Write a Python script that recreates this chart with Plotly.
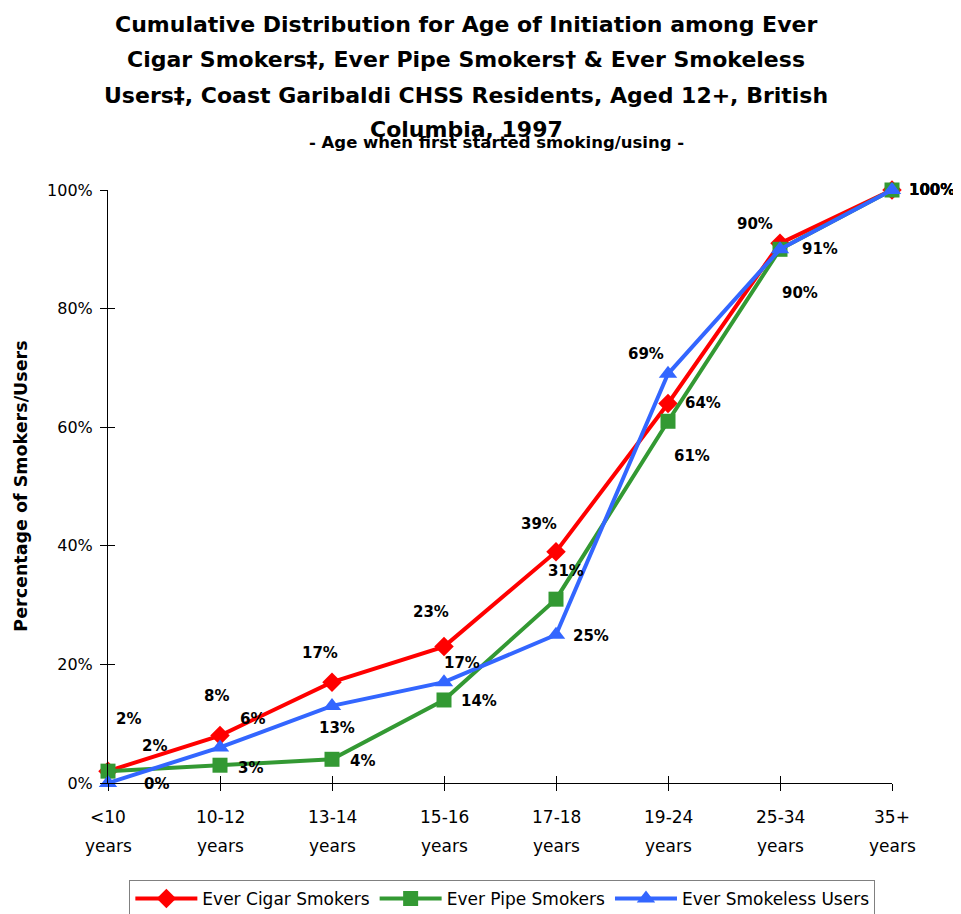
import plotly.graph_objects as go

# data
categories = ["<10", "10-12", "13-14", "15-16", "17-18", "19-24", "25-34", "35+"]
cat_unit = "years"
cigar = [2, 8, 17, 23, 39, 64, 91, 100]
pipe = [2, 3, 4, 14, 31, 61, 90, 100]
smokeless = [0, 6, 13, 17, 25, 69, 90, 100]
y_ticks = [0, 0.2, 0.4, 0.6, 0.8, 1.0]

title_lines = [
    "Cumulative Distribution for Age of Initiation among Ever",
    "Cigar Smokers\u2021, Ever Pipe Smokers\u2020 & Ever Smokeless",
    "Users\u2021, Coast Garibaldi CHSS Residents, Aged 12+, British",
    "Columbia, 1997",
]
subtitle = "- Age when first started smoking/using -"

# label offsets (px) for each series' data labels
cigar_off = [(20, 52), (-4, 40), (-12, 29), (-13, 35), (-17, 28), (35, 0), (40, -6), (40, 0)]
pipe_off = [(46, 25), (30, -3), (30, -2), (35, -1), (10, 28), (24, -35), (20, -44), (40, 0)]
smokeless_off = [(48, -1), (32, 28), (5, -22), (18, 19), (35, -1), (-22, 20), (-25, 25), (40, 0)]

FONT = "DejaVu Sans"

series = [
    ("Ever Cigar Smokers", cigar, "#FF0000", "diamond", 15, cigar_off),
    ("Ever Pipe Smokers", pipe, "#339933", "square", 15, pipe_off),
    ("Ever Smokeless Users", smokeless, "#3366FF", "triangle-up", 16, smokeless_off),
]

xs = list(range(len(categories)))

fig = go.Figure()
annotations = []
for name, vals, color, sym, size, offs in series:
    fig.add_trace(go.Scatter(
        x=xs, y=[v / 100 for v in vals],
        mode="lines+markers", name=name,
        line=dict(color=color, width=4),
        marker=dict(symbol=sym, size=size, color=color),
        cliponaxis=False,
    ))
    for i, v in enumerate(vals):
        annotations.append(dict(
            x=i, y=v / 100, xref="x", yref="y", text="<b>%d%%</b>" % v,
            showarrow=False, xshift=offs[i][0], yshift=offs[i][1],
            font=dict(family=FONT, size=15, color="black"),
        ))

# empty traces so the overlay axes (inner half of crossing ticks) get drawn
fig.add_trace(go.Scatter(x=[], y=[], xaxis="x2", yaxis="y", showlegend=False, hoverinfo="skip"))
fig.add_trace(go.Scatter(x=[], y=[], xaxis="x", yaxis="y2", showlegend=False, hoverinfo="skip"))

# x category labels (two lines, wider spacing than tick text allows)
for i, c in enumerate(categories):
    for txt, ty in ((c, -0.057), (cat_unit, -0.106)):
        annotations.append(dict(
            x=i, y=ty, xref="x", yref="paper", text=txt, showarrow=False,
            xanchor="center", yanchor="middle",
            font=dict(family=FONT, size=17, color="black"),
        ))

# title lines
title_y = [1.2799, 1.2209, 1.1602, 1.1012]
for txt, ty in zip(title_lines, title_y):
    annotations.append(dict(
        x=0.457, y=ty, xref="paper", yref="paper", text="<b>%s</b>" % txt,
        showarrow=False, xanchor="center", yanchor="middle",
        font=dict(family=FONT, size=22, color="black"),
    ))
annotations.append(dict(
    x=0.496, y=1.0809, xref="paper", yref="paper", text="<b>%s</b>" % subtitle,
    showarrow=False, xanchor="center", yanchor="middle",
    font=dict(family=FONT, size=16.5, color="black"),
))
annotations.append(dict(
    x=-0.112, y=0.5, xref="paper", yref="paper", text="<b>Percentage of Smokers/Users</b>",
    showarrow=False, textangle=-90, xanchor="center", yanchor="middle",
    font=dict(family=FONT, size=17.5, color="black"),
))

# page has an 8px body margin, so the figure is a little smaller than the window
fig.update_layout(
    width=953, height=906,
    margin=dict(l=100, r=69, t=182, b=131),
    plot_bgcolor="white", paper_bgcolor="white",
    font=dict(family=FONT, size=16, color="black"),
    showlegend=True,
    legend=dict(
        orientation="h", x=0.503, xanchor="center",
        yref="container", y=0.0375, yanchor="top",
        bordercolor="#808080", borderwidth=1,
        font=dict(family=FONT, size=17),
        itemwidth=62,
    ),
    annotations=annotations,
    xaxis=dict(
        tickmode="array", tickvals=xs, showticklabels=False,
        range=[0, len(categories) - 1],
        showline=True, linecolor="black", linewidth=1,
        ticks="outside", ticklen=7, tickcolor="black",
        showgrid=False, zeroline=False,
    ),
    yaxis=dict(
        range=[0, 1], tickvals=y_ticks, tickformat=".0%",
        showline=True, linecolor="black", linewidth=1,
        ticks="outside", ticklen=7, tickcolor="black",
        showgrid=False, zeroline=False, ticklabelstandoff=4,
    ),
    # overlay axes give the inner half of the crossing tick marks
    xaxis2=dict(
        overlaying="x", anchor="y", side="bottom",
        tickmode="array", tickvals=xs, showticklabels=False,
        range=[0, len(categories) - 1],
        ticks="inside", ticklen=7, tickcolor="black",
        showline=False, showgrid=False, zeroline=False,
    ),
    yaxis2=dict(
        overlaying="y", anchor="x", side="left",
        range=[0, 1], tickvals=y_ticks, showticklabels=False,
        ticks="inside", ticklen=7, tickcolor="black",
        showline=False, showgrid=False, zeroline=False,
    ),
)

fig.write_html("out.html")
